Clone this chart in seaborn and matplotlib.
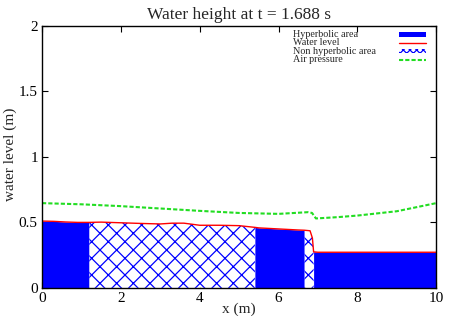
import numpy as np
import pandas as pd
import seaborn as sns
import matplotlib
matplotlib.use("Agg")
import matplotlib.pyplot as plt
from matplotlib.patches import Rectangle
from matplotlib.lines import Line2D

# water level along the channel (m)
x_level = [0, 0.3, 0.6, 0.9, 1.2, 1.5, 2.0, 2.5, 3.0, 3.3, 3.6, 4.0, 4.5, 5.0, 5.4,
           5.5, 6.0, 6.5, 6.66, 6.8, 6.86, 6.89, 7.0, 8.0, 9.0, 10.0]
level = [0.51, 0.508, 0.503, 0.50, 0.50, 0.502, 0.497, 0.492, 0.488, 0.494, 0.494, 0.478, 0.478, 0.475, 0.462,
         0.458, 0.45, 0.442, 0.44, 0.436, 0.38, 0.275, 0.272, 0.272, 0.272, 0.272]

# air pressure curve
x_air = [0, 1, 2, 3, 4, 5, 6, 6.75, 6.85, 6.95, 7.5, 8, 9, 10]
air = [0.647, 0.638, 0.624, 0.606, 0.588, 0.572, 0.565, 0.578, 0.572, 0.53, 0.54, 0.552, 0.585, 0.647]

# zones
hyper_zones = [(0, 1.2), (5.4, 6.66), (6.89, 10)]
nonhyper_zones = [(1.2, 5.4), (6.66, 6.89)]

legend_labels = ["Hyperbolic area", "Water level", "Non hyperbolic area", "Air pressure"]

sns.set_style("ticks")
plt.rcParams["font.family"] = ["Liberation Serif", "DejaVu Serif"]
plt.rcParams["hatch.color"] = "#0000ff"
plt.rcParams["hatch.linewidth"] = 0.9
plt.rcParams["xtick.direction"] = "in"
plt.rcParams["ytick.direction"] = "in"

BLUE = "#0000ff"
RED = "#ff0000"
GREEN = "#22dd22"
DASH = (0, (2, 1))

fig, ax = plt.subplots(figsize=(4.52, 3.16), dpi=100)
fig.subplots_adjust(left=0.093, right=0.965, top=0.918, bottom=0.089)

xl = np.array(x_level)
yl = np.array(level)
for a, b in hyper_zones:
    m = (xl >= a) & (xl <= b)
    ax.fill_between(xl[m], 0, yl[m], color=BLUE, linewidth=0)
for a, b in nonhyper_zones:
    m = (xl >= a) & (xl <= b)
    ax.fill_between(xl[m], 0, yl[m], facecolor="white", edgecolor=BLUE,
                    hatch="xx", linewidth=0)

df_level = pd.DataFrame({"x": x_level, "y": level})
df_air = pd.DataFrame({"x": x_air, "y": air})
sns.lineplot(data=df_level, x="x", y="y", color=RED, linewidth=1.0, ax=ax)
sns.lineplot(data=df_air, x="x", y="y", color=GREEN, linewidth=1.5, ax=ax,
             linestyle=DASH)

ax.set_xlim(0, 10)
ax.set_ylim(0, 2)
ax.set_xticks([0, 2, 4, 6, 8, 10])
ax.set_yticks([0, 0.5, 1, 1.5, 2])
ax.set_yticklabels(["0", "0.5", "1", "1.5", "2"])
ax.tick_params(top=True, right=True, labelsize=11, length=4, width=0.8,
               colors="black", pad=3)
for s in ax.spines.values():
    s.set_visible(True)
    s.set_linewidth(1.0)
    s.set_color("black")
ax.set_xlabel("x (m)", fontsize=11, va="center")
ax.xaxis.set_label_coords(0.5, -0.08)
ax.set_ylabel("water level (m)", fontsize=11, va="center")
ax.yaxis.set_label_coords(-0.081, 0.508)
ax.set_title("Water height at t = 1.688 s", fontsize=12.5, pad=5)

# key, gnuplot style: labels left-aligned, samples on the right
rows_y = [0.967, 0.935, 0.903, 0.871]
tx, hx0, hx1 = 0.637, 0.906, 0.974
for yy, lab in zip(rows_y, legend_labels):
    ax.text(tx, yy, lab, transform=ax.transAxes, fontsize=7.3, va="center", ha="left")
ax.add_patch(Rectangle((hx0, rows_y[0] - 0.009), hx1 - hx0, 0.018, transform=ax.transAxes,
                       facecolor=BLUE, edgecolor="none"))
ax.add_line(Line2D([hx0, hx1], [rows_y[1], rows_y[1]], transform=ax.transAxes,
                   color=RED, linewidth=1.0))
ax.add_patch(Rectangle((hx0, rows_y[2] - 0.008), hx1 - hx0, 0.016, transform=ax.transAxes,
                       facecolor="white", edgecolor=BLUE, hatch="xxxxx", linewidth=0))
ax.add_line(Line2D([hx0, hx1], [rows_y[3], rows_y[3]], transform=ax.transAxes,
                   color=GREEN, linewidth=1.5, linestyle=DASH))

fig.savefig("out.png", dpi=100)
